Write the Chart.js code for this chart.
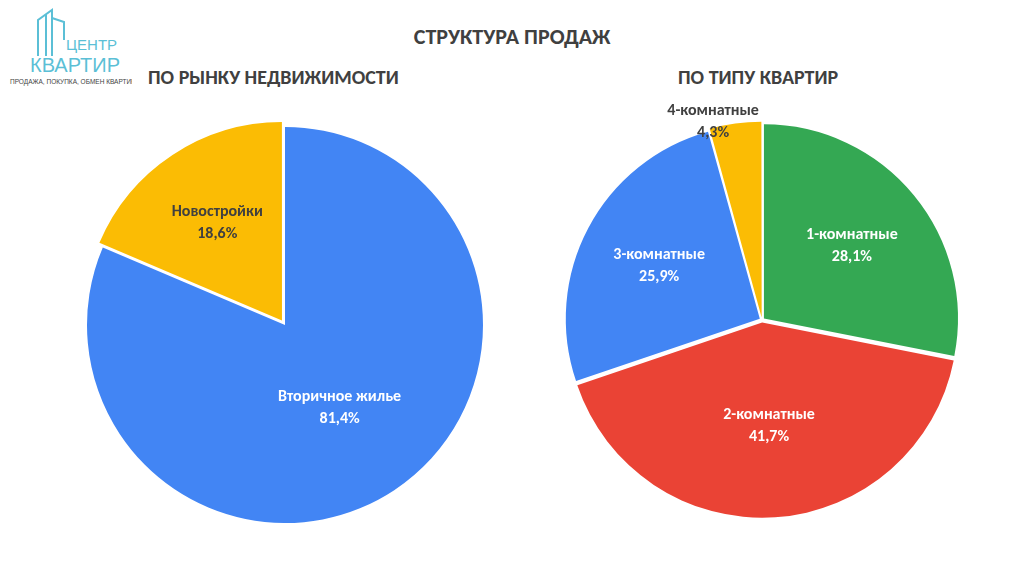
<!DOCTYPE html>
<html><head><meta charset="utf-8">
<script src="https://cdn.jsdelivr.net/npm/chart.js@4"></script>
<style>
body{margin:0;width:1024px;height:576px;background:#fff;position:relative;overflow:hidden;font-family:Calibri,"Liberation Sans","Open Sans",sans-serif}
.t{position:absolute;font-weight:bold;color:#404040}
canvas{position:absolute}
</style></head><body>
<div class="t" style="left:0;width:1024px;text-align:center;top:23px;font-size:22px">СТРУКТУРА ПРОДАЖ</div>
<div class="t" style="left:148px;top:65px;font-size:20px">ПО РЫНКУ НЕДВИЖИМОСТИ</div>
<div class="t" style="left:678px;top:65px;font-size:20px">ПО ТИПУ КВАРТИР</div>
<svg style="position:absolute;left:8px;top:4px" width="124" height="88">
<g fill="none" stroke="#5bbfd6" stroke-width="2"><path d="M30 52 V16 L44 6 V52 M38 10 V52"/><path d="M44 14 L56 18 V36"/></g>
<text x="58" y="46" font-size="15" fill="#5bbfd6" font-family="Liberation Sans">ЦЕНТР</text>
<text x="22" y="68" font-size="20" fill="#5bbfd6" font-family="Liberation Sans">КВАРТИР</text>
<text x="2" y="80" font-size="6.5" fill="#444" font-family="Liberation Sans">ПРОДАЖА, ПОКУПКА, ОБМЕН КВАРТИР</text>
</svg>
<canvas id="c1" style="left:45px;top:85px;width:480px;height:480px"></canvas>
<canvas id="c2" style="left:522px;top:80px;width:480px;height:480px"></canvas>
<script>
const marketLabels=["Вторичное жилье","Новостройки"];
const marketValues=[81.4,18.6];
const marketColors=["#4285F4","#FBBC04"];
const roomLabels=["1-комнатные","2-комнатные","3-комнатные","4-комнатные"];
const roomValues=[28.1,41.7,25.9,4.3];
const roomColors=["#34A853","#EA4335","#4285F4","#FBBC04"];

const fmt=v=>v.toFixed(1).replace(".",",")+"%";

const labelPlugin={
    id:"sliceLabels",
    afterDatasetsDraw(chart,args,opts){
        const ctx=chart.ctx;
        const meta=chart.getDatasetMeta(0);
        const ds=chart.data.datasets[0];
        ctx.save();
        ctx.textAlign="center";
        ctx.textBaseline="middle";
        ctx.font="bold 16px Calibri, 'Liberation Sans', sans-serif";
        meta.data.forEach((arc,i)=>{
            const p=arc.getProps(["x","y","startAngle","endAngle","outerRadius"],true);
            const a=(p.startAngle+p.endAngle)/2;
            const f=opts.radius[i];
            const x=p.x+Math.cos(a)*p.outerRadius*f+(opts.dx?opts.dx[i]:0);
            const y=p.y+Math.sin(a)*p.outerRadius*f;
            ctx.fillStyle=opts.colors[i];
            ctx.fillText(chart.data.labels[i],x,y-11);
            ctx.fillText(fmt(ds.data[i]),x,y+11);
        });
        ctx.restore();
    }
};

new Chart(document.getElementById("c1"),{
    type:"pie",
    data:{labels:marketLabels,datasets:[{data:marketValues,backgroundColor:marketColors,borderWidth:0,offset:[0,22]}]},
    options:{responsive:false,animation:false,radius:198,
        plugins:{legend:{display:false},tooltip:{enabled:false},
            sliceLabels:{radius:[0.5,0.62],colors:["#fff","#404040"]}}},
    plugins:[labelPlugin]
});

new Chart(document.getElementById("c2"),{
    type:"pie",
    data:{labels:roomLabels,datasets:[{data:roomValues,backgroundColor:roomColors,borderWidth:0,offset:10}]},
    options:{responsive:false,animation:false,radius:194,
        plugins:{legend:{display:false},tooltip:{enabled:false},
            sliceLabels:{radius:[0.6,0.55,0.6,1.03],dx:[0,0,0,-22],colors:["#fff","#fff","#fff","#404040"]}}},
    plugins:[labelPlugin]
});
</script>
</body></html>
